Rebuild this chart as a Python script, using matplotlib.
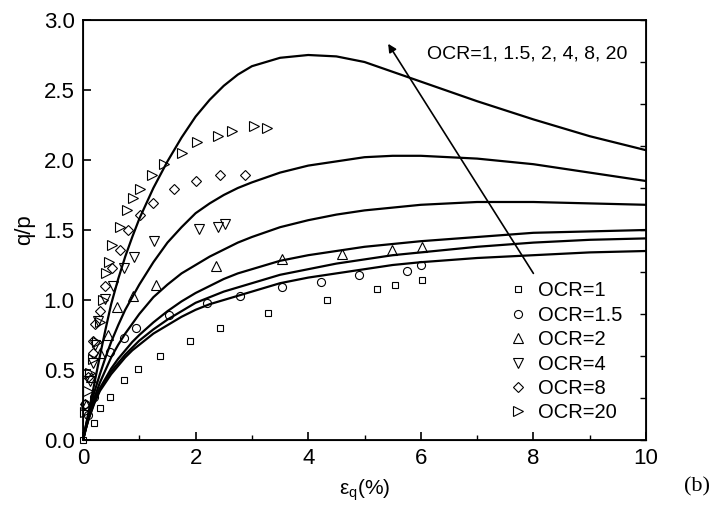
import numpy as np
import matplotlib
matplotlib.use("Agg")
import matplotlib.pyplot as plt

plt.rcParams['font.family'] = ['Liberation Sans', 'DejaVu Sans']

# ---------------- data ----------------
ocr_labels = ["OCR=1", "OCR=1.5", "OCR=2", "OCR=4", "OCR=8", "OCR=20"]

# model curves (shared strain grid, %)
curve_x = [0, 0.05, 0.1, 0.2, 0.3, 0.4, 0.5, 0.625, 0.75, 0.875, 1, 1.25, 1.5, 1.75, 2, 2.25, 2.5, 2.75,
           3, 3.5, 4, 4.5, 5, 5.5, 6, 7, 8, 9, 10]
curve_ocr20 = [0, 0.10, 0.20, 0.40, 0.60, 0.79, 0.97, 1.15, 1.31, 1.45, 1.58, 1.80, 1.99, 2.16, 2.31, 2.43, 2.53, 2.61,
               2.67, 2.73, 2.75, 2.74, 2.70, 2.63, 2.56, 2.42, 2.29, 2.17, 2.07]
curve_ocr8 = [0, 0.10, 0.19, 0.34, 0.47, 0.59, 0.70, 0.82, 0.93, 1.02, 1.11, 1.27, 1.41, 1.52, 1.62, 1.69, 1.75, 1.80,
              1.84, 1.91, 1.96, 1.99, 2.02, 2.03, 2.03, 2.01, 1.97, 1.91, 1.85]
curve_ocr4 = [0, 0.09, 0.17, 0.30, 0.41, 0.50, 0.59, 0.68, 0.76, 0.83, 0.90, 1.02, 1.11, 1.19, 1.25, 1.31, 1.36, 1.41,
              1.45, 1.52, 1.57, 1.61, 1.64, 1.66, 1.68, 1.70, 1.70, 1.69, 1.68]
curve_ocr2 = [0, 0.08, 0.16, 0.28, 0.37, 0.44, 0.51, 0.58, 0.64, 0.70, 0.75, 0.84, 0.92, 0.99, 1.05, 1.10, 1.15, 1.19,
              1.22, 1.28, 1.32, 1.35, 1.38, 1.40, 1.42, 1.45, 1.48, 1.49, 1.50]
curve_ocr15 = [0, 0.08, 0.15, 0.27, 0.36, 0.43, 0.49, 0.55, 0.61, 0.66, 0.71, 0.79, 0.86, 0.92, 0.98, 1.02, 1.06, 1.09,
               1.12, 1.18, 1.22, 1.26, 1.29, 1.32, 1.34, 1.38, 1.41, 1.43, 1.44]
curve_ocr1 = [0, 0.08, 0.15, 0.26, 0.35, 0.41, 0.47, 0.53, 0.59, 0.64, 0.68, 0.76, 0.82, 0.88, 0.93, 0.97, 1.00, 1.03,
              1.06, 1.12, 1.16, 1.19, 1.22, 1.25, 1.27, 1.30, 1.32, 1.34, 1.35]

# test data
ocr1_x = [0.0, 0.20, 0.30, 0.48, 0.73, 0.98, 1.36, 1.90, 2.43, 3.29, 4.34, 5.22, 5.54, 6.03]
ocr1_y = [0.0, 0.12, 0.23, 0.31, 0.43, 0.51, 0.60, 0.71, 0.80, 0.91, 1.00, 1.08, 1.11, 1.14]

ocr15_x = [0.04, 0.09, 0.20, 0.48, 0.72, 0.95, 1.52, 2.21, 2.79, 3.53, 4.23, 4.91, 5.76, 6.01]
ocr15_y = [0.26, 0.18, 0.31, 0.63, 0.73, 0.80, 0.89, 0.98, 1.03, 1.09, 1.13, 1.18, 1.21, 1.25]

ocr2_x = [0.05, 0.15, 0.30, 0.45, 0.60, 0.89, 1.30, 2.36, 3.53, 4.60, 5.48, 6.02]
ocr2_y = [0.25, 0.45, 0.62, 0.75, 0.95, 1.03, 1.11, 1.24, 1.29, 1.33, 1.36, 1.38]

ocr4_x = [0.12, 0.18, 0.21, 0.27, 0.39, 0.53, 0.72, 0.91, 1.26, 2.06, 2.39, 2.52]
ocr4_y = [0.42, 0.55, 0.68, 0.85, 1.01, 1.10, 1.23, 1.31, 1.42, 1.51, 1.52, 1.54]

ocr8_x = [0.04, 0.09, 0.18, 0.18, 0.21, 0.30, 0.39, 0.51, 0.66, 0.80, 1.01, 1.25, 1.62, 2.00, 2.43, 2.88]
ocr8_y = [0.26, 0.45, 0.62, 0.71, 0.83, 0.92, 1.10, 1.23, 1.36, 1.50, 1.61, 1.69, 1.79, 1.85, 1.89, 1.89]

ocr20_x = [0.03, 0.08, 0.13, 0.18, 0.24, 0.30, 0.36, 0.40, 0.46, 0.52, 0.66, 0.78, 0.88, 1.01, 1.22, 1.44, 1.75, 2.03, 2.39, 2.65, 3.04, 3.27]
ocr20_y = [0.20, 0.35, 0.48, 0.58, 0.70, 0.84, 1.00, 1.19, 1.27, 1.39, 1.52, 1.64, 1.73, 1.79, 1.89, 1.97, 2.05, 2.13, 2.17, 2.21, 2.24, 2.23]

annot_text = "OCR=1, 1.5, 2, 4, 8, 20"

# ---------------- figure ----------------
fig = plt.figure(figsize=(7.12, 5.20), dpi=100)
ax = fig.add_axes([83/712, 1-440/520, 563/712, 420/520])

for cy in [curve_ocr20, curve_ocr8, curve_ocr4, curve_ocr2, curve_ocr15, curve_ocr1]:
    ax.plot(curve_x, cy, color='black', lw=1.6, solid_joinstyle='round')

series = [
    (ocr1_x, ocr1_y, 's', 5.0),
    (ocr15_x, ocr15_y, 'o', 5.8),
    (ocr2_x, ocr2_y, '^', 6.5),
    (ocr4_x, ocr4_y, 'v', 6.5),
    (ocr8_x, ocr8_y, 'D', 5.5),
    (ocr20_x, ocr20_y, '>', 6.5),
]
handles = []
for (sx, sy, m, ms), lab in zip(series, ocr_labels):
    h, = ax.plot(sx, sy, linestyle='none', marker=m, ms=ms, mfc='none',
                 mec='black', mew=0.8, label=lab, clip_on=False)
    handles.append(h)

ax.set_xlim(0, 10)
ax.set_ylim(0, 3.0)
ax.set_xticks([0, 2, 4, 6, 8, 10])
ax.set_xticks([1, 3, 5, 7, 9], minor=True)
ax.set_yticks([0, 0.5, 1.0, 1.5, 2.0, 2.5, 3.0])
ax.set_yticklabels(["0.0", "0.5", "1.0", "1.5", "2.0", "2.5", "3.0"])
ax.tick_params(which='major', direction='in', length=6, width=1.2, labelsize=16, pad=6)
ax.tick_params(which='minor', direction='in', length=3.5, width=1.0)
for s in ax.spines.values():
    s.set_linewidth(1.3)

# right-hand ticks (no labels)
axr = ax.twinx()
axr.set_ylim(0, 3.0)
axr.set_yticks(np.linspace(0, 3.0, 11))
axr.tick_params(direction='in', length=4, width=1.0, labelright=False)

ax.set_ylabel("q/p", fontsize=16, labelpad=6)
ax.set_xlabel("ε$_\\mathregular{q}$(%)", fontsize=15, labelpad=6)

leg = ax.legend(handles=handles, loc='upper left', bbox_to_anchor=(0.755, 0.378),
                frameon=False, fontsize=14.5, handlelength=1.0, handletextpad=0.5,
                labelspacing=0.27, borderpad=0, borderaxespad=0)

ax.annotate("", xy=(5.42, 2.83), xytext=(8.0, 1.19),
            arrowprops=dict(arrowstyle='-|>', lw=1.2, color='black', mutation_scale=12,
                            shrinkA=0, shrinkB=0))
ax.text(6.11, 2.76, annot_text, fontsize=14, ha='left', va='center')

fig.text(697/712, 1-487/520, "(b)", fontsize=16, family='Liberation Serif', ha='center', va='center')

fig.savefig("out.png", dpi=100)
